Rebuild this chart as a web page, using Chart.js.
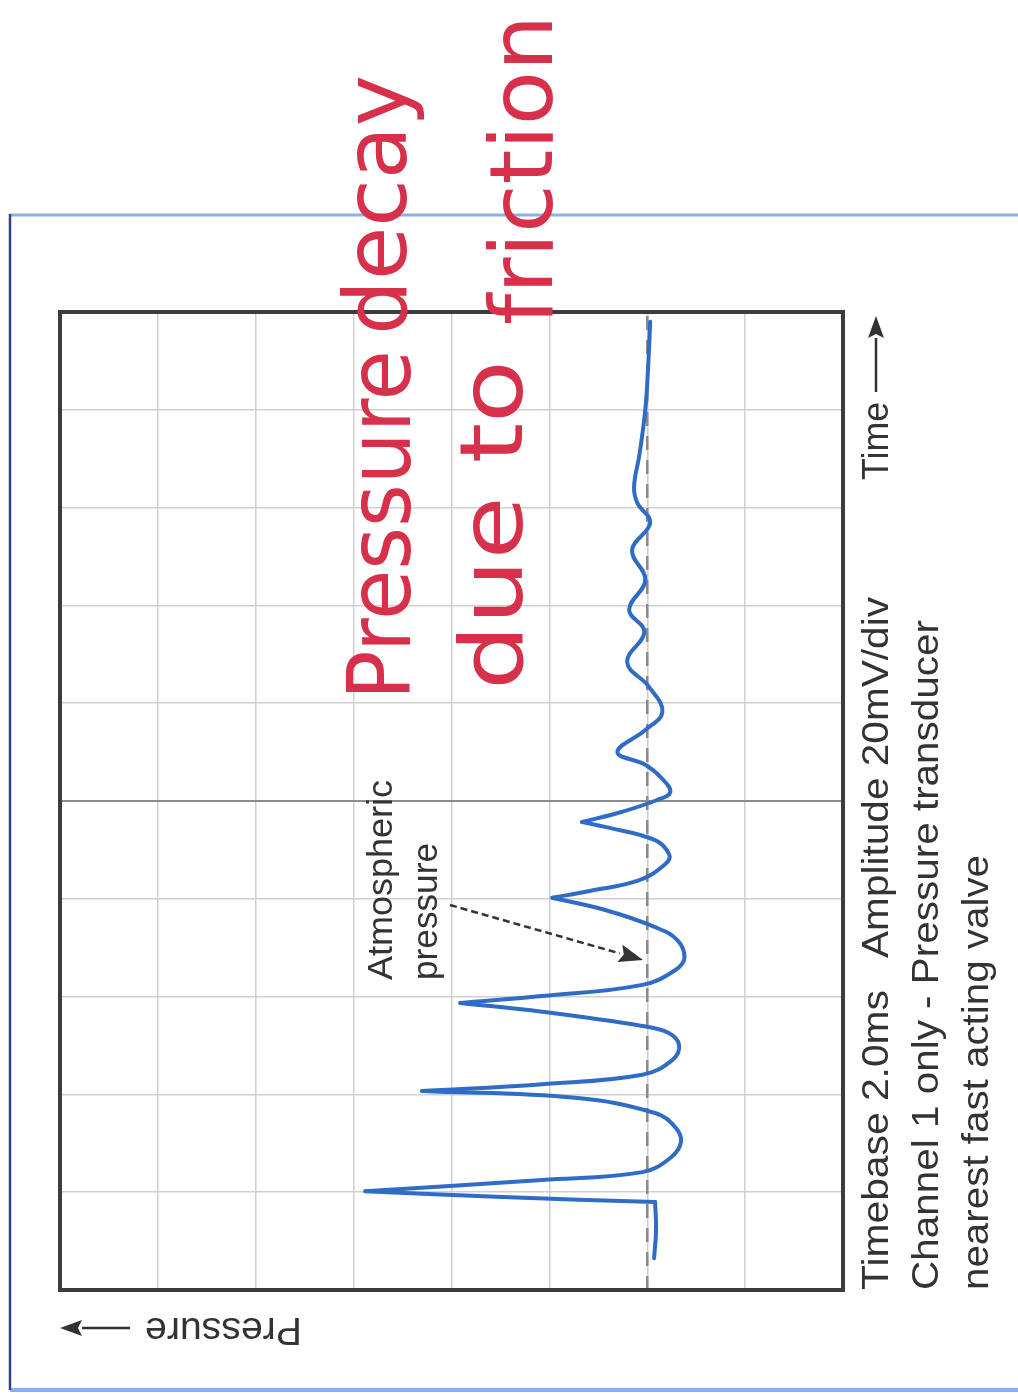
<!DOCTYPE html>
<html>
<head>
<meta charset="utf-8">
<script src="https://cdn.jsdelivr.net/npm/chart.js@4.4.1/dist/chart.umd.min.js"></script>
<style>
  html, body { margin: 0; padding: 0; background: #fff; }
  canvas { display: block; }
</style>
</head>
<body>
<canvas id="scope" width="1018" height="1395"></canvas>
<script>
// trace: time in ms (2.0 ms/div), pressure in mV (20 mV/div, 0 = atmospheric)
let timeMs = [0.65, 1.23, 1.80, 1.90, 2.02, 2.25, 2.41, 2.70, 3.03, 3.33, 3.62, 3.93, 4.07,
  4.21, 4.40, 4.70, 5.01, 5.26, 5.40, 5.69, 5.87, 6.01, 6.24, 6.54, 6.79, 7.16, 7.42, 7.77, 8.02,
  8.16, 8.38, 8.71, 8.90, 9.20, 9.47, 9.57, 9.78, 10.02, 10.18, 10.45, 10.74, 11.00, 11.45, 11.82,
  12.33, 12.84, 13.46, 13.91, 14.52, 15.13, 15.69, 16.09, 16.42, 17.08, 18.00, 18.92, 19.80];
let pressureMv = [-1.4, -1.8, -1.6, 29.6, 57.6, 21.5, 1.0, -4.7, -6.9, -5.7, -1.6, 14.7, 46.0,
  21.5, 1.0, -5.1, -6.5, -4.3, 1.0, 21.5, 38.2, 21.5, 1.0, -5.7, -7.6, -6.1, -1.6, 8.6, 19.4,
  11.8, 1.6, -3.7, -4.5, -1.6, 8.6, 13.3, 5.1, -2.0, -4.7, -3.1, 0.4, 6.1, 0.4, -3.1,
  -0.4, 4.1, 0.6, 3.7, 0.4, 3.1, -0.6, 2.0, 2.7, 1.6, 0.4, -0.2, -0.6];
// sharp corners of the trace (spike tips)
let cusps = [2, 4, 12, 20, 28, 35];

let timeTicks = [0, 2, 4, 6, 8, 10, 12, 14, 16, 18, 20];
let pressureTicks = [-40, -20, 0, 20, 40, 60, 80, 100, 120];
let atmospheric = 0;

let blue = '#2f6cc6';
let red = '#d6304a';

// split into pieces between cusps so the spike tips stay sharp
let pieces = [];
let start = 0;
cusps.concat([timeMs.length - 1]).forEach(function (end) {
  let pts = [];
  for (let i = start; i <= end; i++) pts.push({x: pressureMv[i], y: timeMs[i]});
  pieces.push(pts);
  start = end;
});

let datasets = pieces.map(function (pts) {
  return {
    data: pts,
    showLine: true,
    borderColor: blue,
    borderWidth: 4,
    tension: 0.4,
    pointRadius: 0,
    borderCapStyle: 'round',
    borderJoinStyle: 'round',
    order: 0
  };
});
datasets.push({
  data: [{x: atmospheric, y: timeTicks[0]}, {x: atmospheric, y: timeTicks[timeTicks.length - 1]}],
  showLine: true,
  borderColor: '#8a8a8a',
  borderWidth: 2.5,
  borderDash: [14, 10],
  pointRadius: 0,
  order: 5
});

function vtext(ctx, str, x, y0, y1, font, color) {
  // text turned to read bottom-to-top, baseline at x, running from y0 up to y1
  ctx.save();
  ctx.font = font;
  ctx.fillStyle = color;
  ctx.textBaseline = 'alphabetic';
  ctx.textAlign = 'left';
  let w = ctx.measureText(str).width;
  ctx.translate(x, y0);
  ctx.rotate(-Math.PI / 2);
  ctx.scale((y0 - y1) / w, 1);
  ctx.fillText(str, 0, 0);
  ctx.restore();
}

function arrow(ctx, x0, y0, x1, y1, head, half, color, dash) {
  let dx = x1 - x0, dy = y1 - y0;
  let len = Math.sqrt(dx * dx + dy * dy);
  let ux = dx / len, uy = dy / len;
  let bx = x1 - ux * head, by = y1 - uy * head;
  ctx.save();
  ctx.strokeStyle = color;
  ctx.fillStyle = color;
  ctx.lineWidth = 2.5;
  if (dash) ctx.setLineDash(dash);
  ctx.beginPath();
  ctx.moveTo(x0, y0);
  ctx.lineTo(bx, by);
  ctx.stroke();
  ctx.setLineDash([]);
  ctx.beginPath();
  ctx.moveTo(x1, y1);
  ctx.lineTo(bx - uy * half, by + ux * half);
  ctx.lineTo(bx + ux * 4, by + uy * 4);
  ctx.lineTo(bx + uy * half, by - ux * half);
  ctx.closePath();
  ctx.fill();
  ctx.restore();
}

let ctx = document.getElementById('scope').getContext('2d');
let scope = new Chart(ctx, {
  type: 'scatter',
  data: { datasets: datasets },
  options: {
    responsive: false,
    animation: false,
    layout: { padding: { left: 60, top: 312, right: 175, bottom: 105 } },
    plugins: { legend: { display: false }, tooltip: { enabled: false } },
    scales: {
      x: {
        type: 'linear',
        reverse: true,
        min: pressureTicks[0],
        max: pressureTicks[pressureTicks.length - 1],
        afterBuildTicks: function (axis) { axis.ticks = pressureTicks.map(function (v) { return {value: v}; }); },
        ticks: { display: false },
        border: { display: false },
        grid: { color: '#d0d0d0', lineWidth: 1.5, drawTicks: false }
      },
      y: {
        type: 'linear',
        min: timeTicks[0],
        max: timeTicks[timeTicks.length - 1],
        afterBuildTicks: function (axis) { axis.ticks = timeTicks.map(function (v) { return {value: v}; }); },
        ticks: { display: false },
        border: { display: false },
        grid: {
          drawTicks: false,
          lineWidth: function (c) { return c.tick && c.tick.value === 10 ? 2 : 1.5; },
          color: function (c) { return c.tick && c.tick.value === 10 ? '#8c8c8c' : '#d0d0d0'; }
        }
      }
    }
  },
  plugins: [{
    id: 'decor',
    afterDraw: function (chart) {
      let c = chart.ctx, a = chart.chartArea;
      c.save();
      // screen frame
      c.strokeStyle = '#3c3c3c';
      c.lineWidth = 4;
      c.strokeRect(a.left, a.top, a.right - a.left, a.bottom - a.top);
      // page border of the scan
      c.strokeStyle = '#88b0f0';
      c.lineWidth = 3;
      c.beginPath(); c.moveTo(10, 215); c.lineTo(1018, 215); c.stroke();
      c.lineWidth = 4;
      c.beginPath(); c.moveTo(10, 1390); c.lineTo(1018, 1390); c.stroke();
      c.strokeStyle = '#34407c';
      c.lineWidth = 2.5;
      c.beginPath(); c.moveTo(10, 214); c.lineTo(10, 1390); c.stroke();
      c.restore();

      let sans = '"Liberation Sans", Arial, sans-serif';
      vtext(c, 'Timebase 2.0ms', 888, 1290, 990, '37px ' + sans, '#333');
      vtext(c, 'Amplitude 20mV/div', 888, 958, 597, '37px ' + sans, '#333');
      vtext(c, 'Channel 1 only - Pressure transducer', 938, 1290, 620, '37px ' + sans, '#333');
      vtext(c, 'nearest fast acting valve', 988, 1290, 855, '37px ' + sans, '#333');
      vtext(c, 'Time', 888, 480, 402, '37px ' + sans, '#333');
      arrow(c, 876, 392, 876, 316, 22, 8, '#333');

      vtext(c, 'Atmospheric', 392, 980, 780, '35px ' + sans, '#333');
      vtext(c, 'pressure', 437, 980, 843, '35px ' + sans, '#333');
      arrow(c, 450, 905, 643, 960, 24, 9, '#333', [7, 4]);

      // upside-down axis name
      c.save();
      c.font = '38px ' + sans;
      c.fillStyle = '#333';
      let w = c.measureText('Pressure').width;
      c.translate(302, 1318);
      c.rotate(Math.PI);
      c.scale(157 / w, 1);
      c.fillText('Pressure', 0, 0);
      c.restore();
      arrow(c, 130, 1328, 60, 1328, 22, 8, '#333');

      // handwritten note
      let hand = '88px "DejaVu Sans", sans-serif';
      vtext(c, 'Pressure', 410, 700, 350, hand, red);
      vtext(c, 'decay', 406, 335, 75, hand, red);
      vtext(c, 'due to', 522, 690, 360, hand, red);
      vtext(c, 'friction', 552, 325, 15, hand, red);
    }
  }]
});
</script>
</body>
</html>
